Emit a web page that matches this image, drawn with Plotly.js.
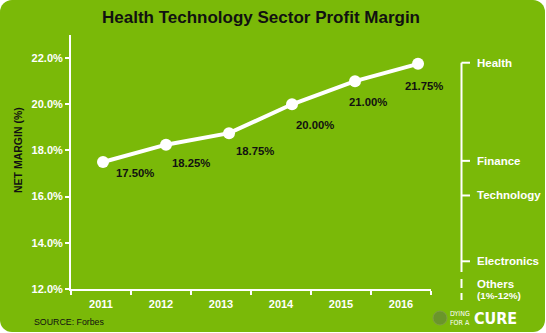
<!DOCTYPE html>
<html>
<head>
<meta charset="utf-8">
<script src="https://cdn.plot.ly/plotly-3.0.1.min.js"></script>
<style>
  html, body { margin: 0; padding: 0; background: #ffffff; }
  #wrap { position: relative; width: 546px; height: 333px; }
  #bg { position: absolute; left: 0; top: 0; width: 545px; height: 332px; background: #7ab908; border-radius: 12px; }
  #chart { position: absolute; left: 0; top: 0; width: 546px; height: 333px; }
</style>
</head>
<body>
<div id="wrap"><div id="bg"></div><div id="chart"></div></div>
<script>
// ---- data ----
const years = [2011, 2012, 2013, 2014, 2015, 2016];
const yearLabels = ['2011', '2012', '2013', '2014', '2015', '2016'];
const netMargin = [17.50, 18.25, 18.75, 20.00, 21.00, 21.75];
const sectorNames = ['Health', 'Finance', 'Technology', 'Electronics'];
const sectorValues = [21.8, 17.55, 16.05, 13.2];
const othersLabel = 'Others';
const othersRange = '(1%-12%)';
const yTicks = [12, 14, 16, 18, 20, 22];

// ---- styling / geometry (pixels) ----
const W = 546, H = 333;
const M = { l: 71, r: 115, t: 35, b: 44 };
const PW = W - M.l - M.r, PH = H - M.t - M.b;
const px = x => (x - M.l) / PW;            // pixel -> paper x
const py = y => (M.t + PH - y) / PH;       // pixel -> paper y
const FONT = 'Liberation Sans, Arial, Helvetica, sans-serif';
const NARROW = 'Liberation Sans Narrow, DejaVu Sans Condensed, Arial Narrow, sans-serif';
const yRange = [12, 23];
const yFromPix = p => yRange[1] - (p - M.t) / PH * (yRange[1] - yRange[0]);
const labelDx = [32, 25, 26, 23, 13, 6];     // value-label offsets from each point
const labelDy = [11, 18, 18, 21, 21, 22];

const lineTrace = {
  type: 'scatter', mode: 'lines+markers',
  x: years, y: netMargin, xaxis: 'x2', yaxis: 'y',
  line: { color: '#ffffff', width: 4 },
  marker: { color: '#ffffff', size: 12 },
  hoverinfo: 'skip', showlegend: false
};
// invisible carrier so the labelled year axis is built
const axisTrace = {
  type: 'scatter', mode: 'markers', x: years, y: netMargin, xaxis: 'x', yaxis: 'y',
  marker: { opacity: 0, size: 1 }, hoverinfo: 'skip', showlegend: false
};

const annotations = [];
years.forEach((yr, i) => annotations.push({
  xref: 'x2', yref: 'y', x: yr, y: netMargin[i],
  text: netMargin[i].toFixed(2) + '%', showarrow: false,
  xanchor: 'center', yanchor: 'middle', xshift: labelDx[i], yshift: -labelDy[i],
  font: { family: FONT, size: 11.3, color: '#111111', weight: 'bold' }
}));
sectorNames.forEach((s, i) => annotations.push({
  xref: 'paper', yref: 'y', x: px(475), y: sectorValues[i],
  text: s, showarrow: false, xanchor: 'left', yanchor: 'middle',
  font: { family: FONT, size: 11.5, color: '#ffffff', weight: 'bold' }
}));
annotations.push(
  { xref: 'paper', yref: 'paper', x: px(475), y: py(284), text: othersLabel, showarrow: false,
    xanchor: 'left', yanchor: 'middle', font: { family: FONT, size: 11.5, color: '#ffffff', weight: 'bold' } },
  { xref: 'paper', yref: 'paper', x: px(475), y: py(295.5), text: othersRange, showarrow: false,
    xanchor: 'left', yanchor: 'middle', font: { family: FONT, size: 9.9, color: '#ffffff', weight: 'bold' } },
  { xref: 'paper', yref: 'paper', x: px(18), y: py(150), text: 'NET MARGIN (%)', showarrow: false,
    textangle: -90, xanchor: 'center', yanchor: 'middle',
    font: { family: FONT, size: 10.5, color: '#111111', weight: 'bold' } },
  { xref: 'paper', yref: 'paper', x: px(32), y: py(322), text: 'SOURCE: Forbes', showarrow: false,
    xanchor: 'left', yanchor: 'middle', font: { family: FONT, size: 8.8, color: '#111111' } },
  { xref: 'paper', yref: 'paper', x: px(448), y: py(318), text: 'DYING<br>FOR A', showarrow: false,
    xanchor: 'left', yanchor: 'middle', align: 'left',
    font: { family: NARROW, size: 7, color: '#ffffff' } },
  { xref: 'paper', yref: 'paper', x: px(472), y: py(318), text: 'CURE', showarrow: false,
    xanchor: 'left', yanchor: 'middle',
    font: { family: NARROW, size: 16, color: '#ffffff', weight: 'bold' } }
);

const shapes = [
  { type: 'line', xref: 'paper', yref: 'y', x0: px(461.5), x1: px(461.5),
    y0: sectorValues[0], y1: yFromPix(272), line: { color: '#ffffff', width: 2 } }
];
sectorValues.forEach(v => shapes.push({
  type: 'line', xref: 'paper', yref: 'y', x0: px(461.5), x1: px(470),
  y0: v, y1: v, line: { color: '#ffffff', width: 2 }
}));
shapes.push(
  { type: 'line', xref: 'paper', yref: 'paper', x0: px(461.5), x1: px(461.5), y0: py(279), y1: py(288),
    line: { color: '#ffffff', width: 2 } },
  { type: 'line', xref: 'paper', yref: 'paper', x0: px(461.5), x1: px(461.5), y0: py(293), y1: py(300),
    line: { color: '#ffffff', width: 2 } },
  { type: 'circle', xref: 'paper', yref: 'paper', x0: px(433), x1: px(447), y0: py(325), y1: py(311),
    fillcolor: '#6a962a', line: { color: '#7f9f45', width: 1 } }
);

const layout = {
  width: W, height: H, margin: M,
  paper_bgcolor: 'rgba(0,0,0,0)', plot_bgcolor: 'rgba(0,0,0,0)',
  showlegend: false,
  title: { text: 'Health Technology Sector Profit Margin', x: 261 / W, xanchor: 'center',
           y: 1 - 17 / H, yanchor: 'middle',
           font: { family: FONT, size: 17, color: '#111111', weight: 'bold' } },
  xaxis: {
    type: 'linear', range: [2010.5, 2016.5], tickmode: 'array', tickvals: years, ticktext: yearLabels,
    ticks: 'outside', ticklen: 4, tickcolor: 'rgba(0,0,0,0)',
    minor: { ticks: 'outside', ticklen: 4, tickwidth: 2, tickcolor: '#ffffff', tick0: 2010.5, dtick: 1, showgrid: false },
    showline: true, linecolor: '#ffffff', linewidth: 2, showgrid: false, zeroline: false,
    tickfont: { family: FONT, size: 11, color: '#ffffff', weight: 'bold' }, fixedrange: true
  },
  xaxis2: {
    type: 'linear', overlaying: 'x', range: [2010.492, 2016.206], visible: false, fixedrange: true
  },
  yaxis: {
    range: yRange, tickmode: 'array', tickvals: yTicks, ticktext: yTicks.map(v => v.toFixed(1) + '%'),
    ticks: 'outside', ticklen: 4, tickwidth: 2, tickcolor: '#ffffff',
    showline: true, linecolor: '#ffffff', linewidth: 2, showgrid: false, zeroline: false,
    tickfont: { family: FONT, size: 11, color: '#ffffff', weight: 'bold' }, fixedrange: true
  },
  annotations: annotations,
  shapes: shapes
};

Plotly.newPlot('chart', [axisTrace, lineTrace], layout, { displayModeBar: false, staticPlot: true });
</script>
</body>
</html>
